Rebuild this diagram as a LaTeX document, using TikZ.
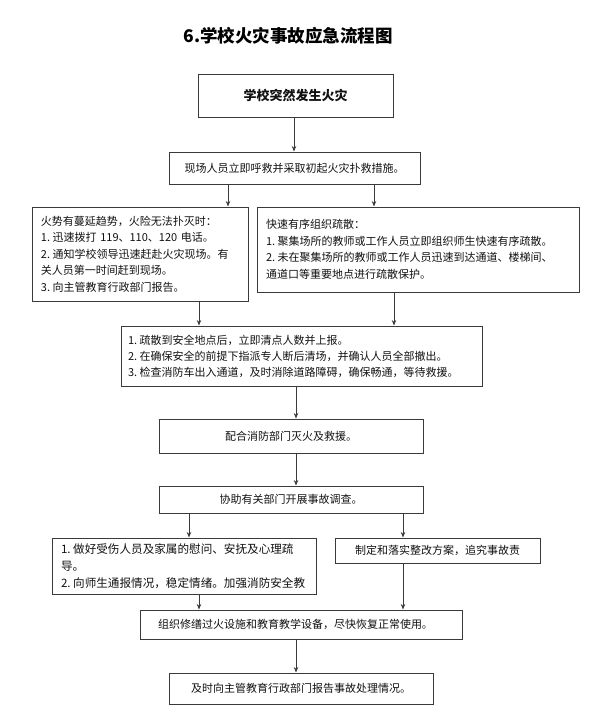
\documentclass[tikz,border=0pt]{standalone}
\usepackage{fontspec}
\setmainfont{Noto Sans CJK SC}
\usetikzlibrary{arrows.meta}
\definecolor{ln}{HTML}{3A3A3A}
\definecolor{tx}{HTML}{111111}
\newcommand{\nsp}{\kern2.5pt}
\begin{document}
\begin{tikzpicture}[x=1pt,y=-1pt,
 box/.style={draw=ln,line width=1pt,rectangle,inner sep=0pt,text=tx,font=\fontsize{11}{16.5}\selectfont},
 lbox/.style={box,align=left,inner xsep=9pt},
 arr/.style={draw=ln,line width=0.9pt,-{Stealth[length=5.5pt,width=4.5pt]}}]
\useasboundingbox (0,0) rectangle (594,713);
\node[font=\fontsize{17.5}{20}\selectfont\bfseries,text=black] (title) at (288,36) {6.学校火灾事故应急流程图};
\node[box,minimum width=195pt,minimum height=43pt,font=\fontsize{13}{15}\selectfont\bfseries] (b1) at (295.5,95.5) {学校突然发生火灾};
\node[box,minimum width=251pt,minimum height=32pt] (b2) at (294.5,168) {现场人员立即呼救并采取初起火灾扑救措施。};
\node[lbox,text width=198pt,minimum height=94pt] (b3) at (140,254) {火势有蔓延趋势，火险无法扑灭时：\\1.\nsp 迅速拨打 119、110、120 电话。\\2.\nsp 通知学校领导迅速赶赴火灾现场。有\\关人员第一时间赶到现场。\\3.\nsp 向主管教育行政部门报告。};
\node[lbox,text width=304pt,minimum height=85pt] (b4) at (418,249.5) {快速有序组织疏散：\\1.\nsp 聚集场所的教师或工作人员立即组织师生快速有序疏散。\\2.\nsp 未在聚集场所的教师或工作人员迅速到达通道、楼梯间、\\通道口等重要地点进行疏散保护。};
\node[lbox,inner xsep=7pt,text width=347pt,minimum height=60pt,font=\fontsize{11}{16}\selectfont] (b5) at (301.5,356) {1.\nsp 疏散到安全地点后，立即清点人数并上报。\\2.\nsp 在确保安全的前提下指派专人断后清场，并确认人员全部撤出。\\3.\nsp 检查消防车出入通道，及时消除道路障碍，确保畅通，等待救援。};
\node[box,minimum width=264pt,minimum height=34pt] (b6) at (291,436) {配合消防部门灭火及救援。};
\node[box,minimum width=264pt,minimum height=27pt] (b7) at (291,499.5) {协助有关部门开展事故调查。};
\node[lbox,text width=246pt,minimum height=56pt,font=\fontsize{11.6}{17}\selectfont] (l7) at (184,566) {1.\nsp 做好受伤人员及家属的慰问、安抚及心理疏\\导。\\2.\nsp 向师生通报情况，稳定情绪。加强消防安全教};
\node[box,minimum width=205pt,minimum height=25pt] (r7) at (437.5,550.5) {制定和落实整改方案，追究事故责};
\node[lbox,inner xsep=18pt,text width=286pt,minimum height=29pt] (b8) at (301,624.5) {组织修缮过火设施和教育教学设备，尽快恢复正常使用。};
\node[box,minimum width=264pt,minimum height=31pt] (b9) at (301,688.5) {及时向主管教育行政部门报告事故处理情况。};
\draw[arr] (b1.south -| 294,0) -- (b2.north -| 294,0);
\draw[arr] (b2.south -| 228,0) -- (b3.north -| 228,0);
\draw[arr] (b2.south -| 374,0) -- (b4.north -| 374,0);
\draw[arr] (b3.south -| 199,0) -- (b5.north -| 199,0);
\draw[arr] (b4.south -| 394,0) -- (b5.north -| 394,0);
\draw[arr] (b5.south -| 296,0) -- (b6.north -| 296,0);
\draw[arr] (b6.south -| 296,0) -- (b7.north -| 296,0);
\draw[arr] (b7.south -| 189,0) -- (l7.north -| 189,0);
\draw[arr] (b7.south -| 403,0) -- (r7.north -| 403,0);
\draw[arr] (l7.south -| 199,0) -- (b8.north -| 199,0);
\draw[arr] (r7.south -| 403,0) -- (b8.north -| 403,0);
\draw[arr] (b8.south -| 296,0) -- (b9.north -| 296,0);
\end{tikzpicture}
\end{document}
